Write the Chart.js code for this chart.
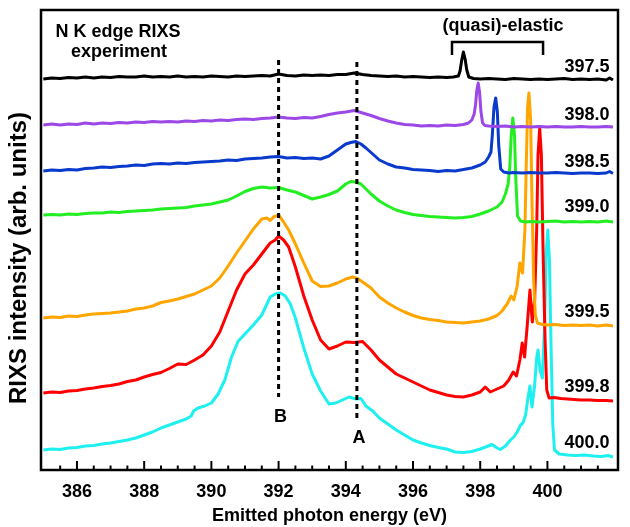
<!DOCTYPE html>
<html>
<head>
<meta charset="utf-8">
<script src="https://cdn.jsdelivr.net/npm/chart.js@4.4.1/dist/chart.umd.min.js"></script>
<style>
  html, body { margin: 0; padding: 0; background: #fff; }
  #wrap { width: 630px; height: 527px; }
</style>
</head>
<body>
<div id="wrap"><canvas id="rixsChart" width="630" height="527"></canvas></div>
<script>
// spectra: [emitted energy (eV), intensity incl. vertical offset (arb. units)]
const spec397_5 = [[385.0,39.1],[385.25,39.2],[385.5,39.15],[385.75,39.25],[386.0,39.2],[386.25,39.3],[386.5,39.2],[386.75,39.3],[387.0,39.25],[387.25,39.35],[387.5,39.3],[387.75,39.3],[388.0,39.4],[388.25,39.3],[388.5,39.35],[388.75,39.3],[389.0,39.4],[389.25,39.3],[389.5,39.35],[389.75,39.3],[390.0,39.4],[390.25,39.35],[390.5,39.3],[390.75,39.4],[391.0,39.35],[391.25,39.4],[391.5,39.45],[391.75,39.4],[392.0,39.6],[392.25,39.45],[392.5,39.4],[392.75,39.5],[393.0,39.45],[393.25,39.5],[393.5,39.45],[393.75,39.55],[394.0,39.55],[394.25,39.7],[394.5,39.55],[394.75,39.45],[395.0,39.4],[395.25,39.35],[395.5,39.4],[395.75,39.3],[396.0,39.35],[396.25,39.3],[396.5,39.25],[396.75,39.3],[397.0,39.25],[397.2,39.3],[397.35,39.4],[397.4,39.9],[397.45,41.0],[397.5,41.8],[397.55,41.1],[397.6,40.0],[397.66,39.3],[397.8,39.15],[398.0,39.1],[398.25,39.15],[398.5,39.1],[398.75,39.05],[399.0,39.15],[399.25,39.1],[399.5,39.05],[399.75,39.1],[400.0,39.05],[400.25,39.1],[400.5,39.15],[400.75,39.05],[401.0,39.1],[401.25,39.05],[401.5,39.1],[401.75,39.0],[401.85,39.2],[401.95,39.0]];

const spec398_0 = [[385.0,34.5],[385.25,34.6],[385.5,34.5],[385.75,34.6],[386.0,34.55],[386.25,34.7],[386.5,34.6],[386.75,34.7],[387.0,34.65],[387.25,34.75],[387.5,34.7],[387.75,34.8],[388.0,34.75],[388.25,34.85],[388.5,34.8],[388.75,34.85],[389.0,34.8],[389.25,34.9],[389.5,34.85],[389.75,34.95],[390.0,34.9],[390.25,35.0],[390.5,34.95],[390.75,35.05],[391.0,35.1],[391.25,35.05],[391.5,35.15],[391.75,35.2],[392.0,35.3],[392.25,35.2],[392.5,35.15],[392.75,35.25],[393.0,35.2],[393.25,35.35],[393.5,35.55],[393.75,35.7],[394.0,35.8],[394.25,35.95],[394.5,35.7],[394.75,35.45],[395.0,35.15],[395.25,34.9],[395.5,34.7],[395.75,34.55],[396.0,34.5],[396.25,34.4],[396.5,34.45],[396.75,34.4],[397.0,34.5],[397.25,34.45],[397.5,34.55],[397.65,34.7],[397.75,35.0],[397.82,35.6],[397.86,36.5],[397.9,38.0],[397.94,38.7],[397.98,37.8],[398.02,35.9],[398.07,34.7],[398.14,34.45],[398.25,34.4],[398.5,34.35],[398.75,34.4],[399.0,34.3],[399.25,34.35],[399.5,34.3],[399.75,34.35],[400.0,34.3],[400.25,34.35],[400.5,34.3],[400.75,34.3],[401.0,34.35],[401.25,34.3],[401.5,34.3],[401.75,34.35],[401.95,34.3]];

const spec398_5 = [[385.0,29.9],[385.25,30.0],[385.5,29.95],[385.75,30.05],[386.0,30.0],[386.25,30.15],[386.5,30.2],[386.75,30.3],[387.0,30.25],[387.25,30.35],[387.5,30.4],[387.75,30.5],[388.0,30.45],[388.25,30.6],[388.5,30.65],[388.75,30.6],[389.0,30.7],[389.25,30.65],[389.5,30.75],[389.75,30.8],[390.0,30.85],[390.25,30.9],[390.5,31.0],[390.75,30.95],[391.0,31.1],[391.25,31.15],[391.5,31.2],[391.75,31.3],[392.0,31.35],[392.25,31.2],[392.5,31.25],[392.75,31.15],[393.0,31.2],[393.25,31.1],[393.5,31.4],[393.75,32.0],[394.0,32.6],[394.15,32.75],[394.3,32.85],[394.45,32.6],[394.6,32.2],[394.75,31.75],[395.0,31.0],[395.25,30.6],[395.5,30.3],[395.75,30.2],[396.0,30.05],[396.25,30.0],[396.5,29.95],[396.75,29.85],[397.0,29.95],[397.25,29.9],[397.5,30.05],[397.75,30.2],[398.0,30.5],[398.15,30.8],[398.25,31.3],[398.32,31.8],[398.36,33.5],[398.41,36.3],[398.46,37.2],[398.51,35.8],[398.55,32.5],[398.61,30.1],[398.7,29.8],[398.85,29.7],[399.0,29.75],[399.25,29.7],[399.5,29.75],[399.75,29.7],[400.0,29.7],[400.25,29.75],[400.5,29.7],[400.75,29.65],[401.0,29.7],[401.25,29.7],[401.5,29.65],[401.75,29.7],[401.85,29.85],[401.95,29.65]];

const spec399_0 = [[385.0,25.5],[385.25,25.55],[385.5,25.5],[385.75,25.6],[386.0,25.55],[386.25,25.65],[386.5,25.7],[386.75,25.7],[387.0,25.8],[387.25,25.75],[387.5,25.85],[387.75,25.9],[388.0,25.95],[388.25,26.0],[388.5,26.1],[388.75,26.15],[389.0,26.2],[389.25,26.25],[389.5,26.4],[389.75,26.5],[390.0,26.6],[390.25,26.8],[390.5,27.0],[390.75,27.4],[391.0,27.85],[391.25,28.15],[391.5,28.3],[391.75,28.2],[392.0,28.25],[392.25,28.0],[392.5,27.8],[392.75,27.45],[393.0,27.1],[393.25,27.3],[393.5,27.55],[393.75,27.9],[394.0,28.6],[394.15,28.85],[394.3,28.8],[394.45,28.6],[394.6,28.1],[394.75,27.6],[395.0,26.9],[395.25,26.4],[395.5,26.0],[395.75,25.75],[396.0,25.55],[396.25,25.45],[396.5,25.35],[396.75,25.3],[397.0,25.25],[397.25,25.2],[397.5,25.25],[397.75,25.35],[398.0,25.6],[398.25,25.9],[398.5,26.3],[398.65,26.8],[398.75,27.6],[398.83,28.6],[398.88,30.3],[398.92,33.3],[398.97,35.2],[399.02,33.5],[399.06,29.0],[399.11,25.4],[399.2,24.9],[399.35,24.8],[399.5,24.85],[399.75,24.8],[400.0,24.85],[400.25,24.9],[400.5,24.8],[400.75,24.85],[401.0,24.8],[401.25,24.85],[401.5,24.8],[401.75,24.9],[401.95,24.8]];

const spec399_5 = [[385.0,15.2],[385.25,15.3],[385.5,15.25],[385.75,15.4],[386.0,15.35],[386.25,15.5],[386.5,15.6],[386.75,15.65],[387.0,15.7],[387.25,15.8],[387.5,15.9],[387.75,16.1],[388.0,16.2],[388.25,16.4],[388.5,16.75],[388.75,16.9],[389.0,17.1],[389.25,17.35],[389.5,17.6],[389.75,18.0],[390.0,18.4],[390.25,19.2],[390.5,20.4],[390.75,21.7],[391.0,22.9],[391.25,24.1],[391.5,25.1],[391.65,25.2],[391.75,24.95],[391.85,25.3],[392.0,25.5],[392.15,24.8],[392.3,24.0],[392.5,22.6],[392.75,20.7],[393.0,18.9],[393.25,18.35],[393.5,18.4],[393.75,18.7],[394.0,19.1],[394.2,19.3],[394.35,19.15],[394.5,18.8],[394.75,18.2],[395.0,17.3],[395.25,16.7],[395.5,16.2],[395.75,15.8],[396.0,15.45],[396.25,15.2],[396.5,15.05],[396.75,14.95],[397.0,14.8],[397.25,14.75],[397.5,14.7],[397.75,14.8],[398.0,14.9],[398.25,15.1],[398.5,15.45],[398.65,15.9],[398.8,16.6],[398.92,17.4],[399.0,17.0],[399.1,18.4],[399.18,20.7],[399.26,19.7],[399.33,24.0],[399.37,30.5],[399.41,36.3],[399.45,37.7],[399.5,35.0],[399.54,27.0],[399.59,19.0],[399.64,15.5],[399.7,14.7],[399.85,14.55],[400.0,14.5],[400.25,14.55],[400.5,14.45],[400.75,14.5],[401.0,14.45],[401.25,14.5],[401.5,14.4],[401.75,14.5],[401.95,14.4]];

const spec399_8 = [[385.0,7.7],[385.25,7.8],[385.5,7.75],[385.75,7.9],[386.0,7.95],[386.25,8.1],[386.5,8.2],[386.75,8.35],[387.0,8.45],[387.25,8.6],[387.5,8.85],[387.75,9.0],[388.0,9.3],[388.25,9.55],[388.5,9.75],[388.75,10.15],[389.0,10.6],[389.25,10.55],[389.5,11.0],[389.75,11.5],[390.0,12.4],[390.25,13.8],[390.5,15.9],[390.75,18.0],[391.0,19.6],[391.25,20.5],[391.5,21.6],[391.75,22.7],[391.9,23.0],[392.0,23.4],[392.15,23.0],[392.3,22.3],[392.5,20.3],[392.75,17.4],[393.0,15.0],[393.25,13.0],[393.5,12.1],[393.75,12.4],[394.0,12.8],[394.25,12.75],[394.5,12.85],[394.75,12.0],[395.0,11.0],[395.25,10.3],[395.5,9.6],[395.75,9.2],[396.0,8.8],[396.25,8.4],[396.5,8.0],[396.75,7.75],[397.0,7.5],[397.25,7.35],[397.5,7.3],[397.75,7.5],[398.0,7.8],[398.15,8.3],[398.3,7.8],[398.5,8.1],[398.7,8.4],[398.85,9.0],[398.98,9.8],[399.08,9.4],[399.18,11.0],[399.25,12.7],[399.32,11.3],[399.4,14.5],[399.48,18.0],[399.55,14.8],[399.62,17.0],[399.68,24.0],[399.72,31.5],[399.77,34.2],[399.82,31.5],[399.87,22.0],[399.93,13.0],[399.98,8.0],[400.05,7.2],[400.2,7.25],[400.4,7.15],[400.6,7.1],[400.8,7.05],[401.0,7.0],[401.25,7.0],[401.5,6.95],[401.75,6.95],[401.95,6.9]];

const spec400_0 = [[385.0,2.0],[385.25,2.1],[385.5,2.05],[385.75,2.2],[386.0,2.25],[386.25,2.4],[386.5,2.45],[386.75,2.6],[387.0,2.7],[387.25,2.85],[387.5,3.0],[387.75,3.2],[388.0,3.5],[388.25,3.8],[388.5,4.2],[388.75,4.5],[389.0,4.8],[389.25,5.1],[389.4,5.4],[389.47,5.9],[389.6,6.2],[389.8,6.4],[390.0,6.7],[390.2,7.6],[390.4,9.0],[390.6,11.3],[390.8,12.9],[391.0,13.6],[391.25,14.5],[391.5,15.5],[391.75,17.3],[391.9,17.6],[392.05,17.7],[392.2,17.4],[392.35,16.6],[392.5,15.2],[392.75,12.2],[393.0,9.6],[393.25,7.9],[393.5,6.6],[393.7,6.7],[393.9,7.0],[394.1,7.3],[394.3,7.1],[394.45,7.15],[394.6,6.4],[394.8,5.9],[395.0,5.2],[395.25,4.6],[395.5,4.0],[395.75,3.5],[396.0,3.0],[396.25,2.7],[396.5,2.45],[396.75,2.25],[397.0,2.1],[397.25,1.8],[397.5,1.75],[397.75,1.85],[398.0,2.1],[398.2,2.35],[398.35,2.55],[398.5,2.2],[398.6,2.05],[398.75,2.4],[398.9,3.0],[399.0,3.3],[399.1,3.8],[399.2,4.5],[399.27,4.7],[399.35,5.5],[399.42,7.2],[399.48,8.4],[399.54,6.3],[399.62,8.5],[399.68,11.2],[399.72,12.0],[399.78,10.0],[399.85,9.2],[399.92,15.0],[399.96,21.5],[400.01,24.0],[400.06,21.0],[400.11,12.0],[400.16,4.5],[400.21,2.0],[400.35,1.6],[400.6,1.5],[400.85,1.45],[401.1,1.5],[401.35,1.4],[401.6,1.35],[401.8,1.45],[401.95,1.3]];

const spectra = [spec397_5, spec398_0, spec398_5, spec399_0, spec399_5, spec399_8, spec400_0];
const excitationLabels = ['397.5', '398.0', '398.5', '399.0', '399.5', '399.8', '400.0'];
const lineColors = ['#000000', '#9b48e6', '#0a3acc', '#22ee22', '#ffa500', '#ff0000', '#1ef0f0'];
const labelLevels = [40.3, 35.5, 30.8, 26.3, 15.8, 8.3, 2.7];
const labelEnergy = 401.85;

// dashed guides (B, A)
const guideNames = ['B', 'A'];
const guideEnergy = [392.0, 394.33];
const guideTop = [41.0, 40.8];
const guideBottom = [7.3, 5.0];
const guideNameLevel = [5.3, 3.2];

// (quasi)-elastic bracket
const bracketEnergy = [397.16, 399.87];
const bracketLevels = [41.5, 42.8];

const FONT = '"Liberation Sans", Arial, Helvetica, sans-serif';

const decorations = {
  id: 'decorations',
  afterDatasetsDraw(chart) {
    const { ctx, chartArea: a, scales: { x, y } } = chart;
    ctx.save();

    // dashed lines A and B
    ctx.strokeStyle = '#000';
    ctx.lineWidth = 3;
    ctx.setLineDash([5, 4]);
    guideEnergy.forEach((e, i) => {
      ctx.beginPath();
      ctx.moveTo(x.getPixelForValue(e), y.getPixelForValue(guideTop[i]));
      ctx.lineTo(x.getPixelForValue(e), y.getPixelForValue(guideBottom[i]));
      ctx.stroke();
    });
    ctx.setLineDash([]);

    ctx.fillStyle = '#000';
    ctx.font = 'bold 18px ' + FONT;
    ctx.textAlign = 'center';
    ctx.textBaseline = 'middle';
    guideNames.forEach((n, i) => {
      ctx.fillText(n, x.getPixelForValue(guideEnergy[i]) + 2, y.getPixelForValue(guideNameLevel[i]));
    });

    // bracket
    const bx0 = x.getPixelForValue(bracketEnergy[0]);
    const bx1 = x.getPixelForValue(bracketEnergy[1]);
    const by0 = y.getPixelForValue(bracketLevels[0]);
    const by1 = y.getPixelForValue(bracketLevels[1]);
    ctx.lineWidth = 2.5;
    ctx.beginPath();
    ctx.moveTo(bx0, by0);
    ctx.lineTo(bx0, by1);
    ctx.lineTo(bx1, by1);
    ctx.lineTo(bx1, by0);
    ctx.stroke();
    ctx.fillText('(quasi)-elastic', x.getPixelForValue(398.68), y.getPixelForValue(44.4));

    ctx.fillText('N K edge RIXS', x.getPixelForValue(387.22), y.getPixelForValue(43.8));
    ctx.fillText('experiment', x.getPixelForValue(387.25), y.getPixelForValue(41.8));

    // excitation energy labels
    ctx.textAlign = 'right';
    excitationLabels.forEach((t, i) => {
      ctx.fillText(t, x.getPixelForValue(labelEnergy), y.getPixelForValue(labelLevels[i]));
    });

    // y title
    ctx.save();
    ctx.translate(19, y.getPixelForValue(21.2));
    ctx.rotate(-Math.PI / 2);
    ctx.textAlign = 'center';
    ctx.font = 'bold 24px ' + FONT;
    ctx.fillText('RIXS intensity (arb. units)', 0, 0);
    ctx.restore();

    // inward tick marks
    ctx.lineWidth = 2;
    x.ticks.forEach(t => {
      const v = t.value;
      if (Math.abs(v * 2 - Math.round(v * 2)) > 1e-6) return;
      const px = x.getPixelForValue(v);
      const len = Math.abs(v % 2) < 1e-6 ? 9 : 4.5;
      ctx.beginPath();
      ctx.moveTo(px, a.bottom);
      ctx.lineTo(px, a.bottom - len);
      ctx.stroke();
    });

    // frame
    ctx.lineWidth = 2.5;
    ctx.strokeRect(a.left, a.top, a.right - a.left, a.bottom - a.top);
    ctx.restore();
  }
};

new Chart(document.getElementById('rixsChart'), {
  type: 'line',
  data: {
    datasets: spectra.map((s, i) => ({
      label: excitationLabels[i],
      data: s.map(p => ({ x: p[0], y: p[1] })),
      borderColor: lineColors[i],
      borderWidth: 3,
      borderJoinStyle: 'round',
      pointRadius: 0,
      tension: 0,
      fill: false
    }))
  },
  options: {
    responsive: false,
    animation: false,
    devicePixelRatio: 1,
    layout: { padding: { left: 41, right: 12, top: 10, bottom: 0 } },
    plugins: { legend: { display: false }, tooltip: { enabled: false } },
    scales: {
      x: {
        type: 'linear',
        min: 384.93,
        max: 402.1,
        afterFit(scale) { scale.height = 57; },
        grid: { display: false, drawTicks: false },
        border: { display: false },
        ticks: {
          stepSize: 0.5,
          autoSkip: false,
          maxRotation: 0,
          padding: 11,
          color: '#000',
          font: { family: FONT, size: 18, weight: 'bold' },
          callback: v => (Math.abs(v % 2) < 1e-6 ? String(v) : '')
        },
        title: {
          display: true,
          text: 'Emitted photon energy (eV)',
          color: '#000',
          font: { family: FONT, size: 18, weight: 'bold' },
          padding: { top: 0, bottom: 0 }
        }
      },
      y: { type: 'linear', min: 0, max: 46, display: false }
    }
  },
  plugins: [decorations]
});
</script>
</body>
</html>
